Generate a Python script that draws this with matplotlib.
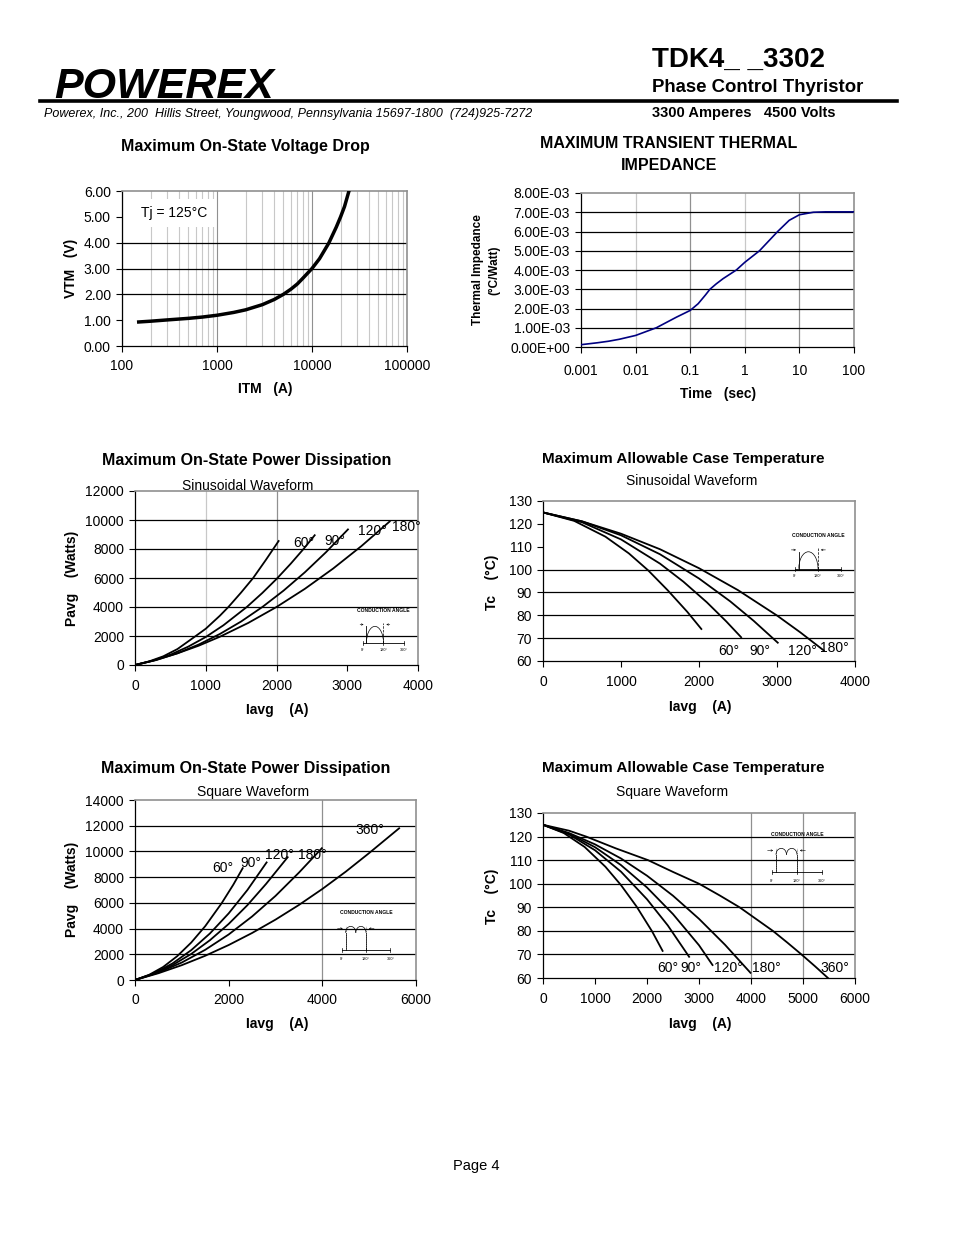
import numpy as np
import matplotlib
matplotlib.use('Agg')
import matplotlib.pyplot as plt
from matplotlib.lines import Line2D
from matplotlib.patches import Arc
from matplotlib.ticker import FuncFormatter, LogLocator, NullFormatter

plt.rcParams['font.family'] = ['Liberation Sans', 'DejaVu Sans']

W, H = 954, 1235

# --- on-state voltage drop
itm = [150, 200, 300, 500, 700, 1000, 1500, 2000, 3000, 4000, 5000, 6000, 7000, 8000,
       10000, 12000, 15000, 18000, 20000, 22000, 24500]
vtm = [0.93, 0.96, 1.01, 1.07, 1.12, 1.19, 1.30, 1.40, 1.60, 1.80, 2.00, 2.20, 2.40, 2.62,
       3.00, 3.38, 3.98, 4.60, 5.00, 5.40, 6.00]
vtm_grid = [2, 3, 4]

# --- transient thermal impedance
t_sec = [0.001, 0.002, 0.0032, 0.005, 0.01, 0.024, 0.056, 0.1, 0.14, 0.19, 0.23, 0.3, 0.4,
         0.7, 1, 1.86, 4, 6.5, 10, 18, 30, 100]
zth = [0.12e-3, 0.22e-3, 0.30e-3, 0.40e-3, 0.60e-3, 1.00e-3, 1.55e-3, 1.90e-3, 2.25e-3,
       2.70e-3, 3.00e-3, 3.28e-3, 3.55e-3, 4.00e-3, 4.40e-3, 5.00e-3, 6.00e-3, 6.58e-3,
       6.87e-3, 7.00e-3, 7.02e-3, 7.02e-3]

# --- sinusoidal power dissipation
sin_p = {
    '60': ([0, 200, 400, 600, 830, 1000, 1200, 1320, 1500, 1670, 1850, 2030],
           [0, 250, 600, 1100, 1900, 2500, 3400, 4000, 5000, 6000, 7250, 8550]),
    '90': ([0, 250, 500, 750, 1000, 1250, 1580, 1800, 2000, 2200, 2380, 2540],
           [0, 290, 710, 1260, 1930, 2740, 4000, 4970, 5930, 6980, 7990, 8950]),
    '120': ([0, 300, 600, 900, 1200, 1500, 1800, 2100, 2400, 2700, 3010],
            [0, 340, 810, 1410, 2140, 3000, 4000, 5130, 6390, 7780, 9350]),
    '180': ([0, 300, 600, 900, 1200, 1600, 2000, 2400, 2800, 3200, 3600],
            [0, 360, 805, 1330, 1950, 2900, 4000, 5250, 6650, 8200, 9900]),
}
# --- sinusoidal case temperature
sin_tc = {
    '60': ([0, 400, 800, 1100, 1350, 1600, 1850, 2030],
           [125, 121.3, 114.4, 107.1, 99.6, 90.9, 81.5, 74.0]),
    '90': ([0, 500, 1000, 1500, 1800, 2100, 2350, 2540],
           [125, 120.7, 113.2, 102.6, 94.7, 85.7, 77.3, 70.4]),
    '120': ([0, 500, 1000, 1500, 2000, 2400, 2700, 3010],
            [125, 121.1, 115.0, 106.7, 96.1, 86.1, 77.6, 68.0]),
    '180': ([0, 500, 1000, 1500, 2000, 2500, 3000, 3300, 3600],
            [125, 121.1, 115.7, 108.9, 100.6, 91.0, 79.9, 72.5, 64.6]),
}
# --- square power dissipation
sq_p = {
    '60': ([0, 300, 600, 900, 1200, 1500, 1850, 2100, 2300],
           [0, 400, 1010, 1850, 2910, 4190, 5970, 7420, 8700]),
    '90': ([0, 400, 800, 1200, 1600, 2000, 2400, 2810],
           [0, 510, 1285, 2320, 3620, 5180, 7000, 9145]),
    '120': ([0, 400, 800, 1200, 1600, 2000, 2400, 2800, 3260],
            [0, 480, 1155, 2025, 3095, 4360, 5820, 7480, 9550]),
    '180': ([0, 500, 1000, 1500, 2000, 2500, 3000, 3500, 3990],
            [0, 577, 1360, 2350, 3540, 4940, 6540, 8350, 10250]),
    '360': ([0, 500, 1000, 1500, 2000, 2500, 3000, 3500, 4000, 4500, 5000, 5640],
            [0, 526, 1155, 1886, 2720, 3656, 4695, 5836, 7080, 8426, 9875, 11800]),
}
# --- square case temperature
sq_tc = {
    '60': ([0, 400, 800, 1200, 1500, 1800, 2100, 2300],
           [125, 121.5, 115.6, 107.2, 99.4, 90.3, 79.7, 71.5]),
    '90': ([0, 500, 1000, 1500, 2000, 2400, 2810],
           [125, 120.9, 114.2, 105.1, 93.4, 82.3, 69.0]),
    '120': ([0, 500, 1000, 1500, 2000, 2500, 3000, 3260],
            [125, 121.2, 115.5, 107.9, 98.4, 87.1, 73.9, 65.5]),
    '180': ([0, 500, 1000, 1500, 2000, 2500, 3000, 3500, 3990],
            [125, 121.5, 116.7, 110.7, 103.4, 94.9, 85.1, 74.1, 62.2]),
    '360': ([0, 500, 830, 1400, 2020, 2500, 3000, 3400, 3780, 4100, 4420, 4700, 4970, 5230, 5480],
            [125, 122.5, 120, 115, 110, 105, 100, 95, 90, 85, 80, 75, 70, 65, 60]),
}

# angle labels (data coords)
sin_p_lab = [('60°', 2230, 8400), ('90°', 2680, 8550), ('120°', 3150, 9250), ('180°', 3630, 9550)]
sin_tc_lab = [('60°', 2250, 64.3), ('90°', 2650, 64.3), ('120°', 3140, 64.3), ('180°', 3550, 65.6)]
sq_p_lab = [('60°', 1660, 8700), ('90°', 2240, 9100), ('120°', 2770, 9700), ('180°', 3480, 9700),
            ('360°', 4700, 11650)]
sq_tc_lab = [('60°', 2190, 64.2), ('90°', 2650, 64.2), ('120°', 3290, 64.2), ('180°', 4020, 64.2),
             ('360°', 5330, 64.2)]

fig = plt.figure(figsize=(W / 100, H / 100), dpi=100)


def px_axes(l, t, r, b):
    return fig.add_axes([l / W, 1 - b / H, (r - l) / W, (b - t) / H])


def ftext(x, y, s, **kw):
    fig.text(x / W, 1 - y / H, s, **kw)


def style(ax):
    for s in ['top', 'right']:
        ax.spines[s].set_color('#909090')
        ax.spines[s].set_linewidth(1.2)
    for s in ['left', 'bottom']:
        ax.spines[s].set_color('black')
        ax.spines[s].set_linewidth(0.9)
    ax.tick_params(direction='out', length=4, width=0.8, labelsize=10, pad=4,
                   top=False, right=False)
    ax.set_axisbelow(True)


def hgrid(ax, vals):
    for v in vals:
        ax.axhline(v, color='black', lw=0.9, zorder=1)


def inset(rect, square=False):
    l, t, r, b = rect
    ia = px_axes(l, t, r, b)
    ia.axis('off')
    ia.set_xlim(-70, 430)
    ia.set_ylim(-0.7, 2.0)
    ia.text(180, 1.75, 'CONDUCTION ANGLE', fontsize=3.6, weight='bold', ha='center', va='center')
    ia.plot([0, 360], [0, 0], color='black', lw=0.6)
    for x, s in [(0, '0°'), (180, '180°'), (360, '360°')]:
        ia.plot([x, x], [-0.1, 0.1], color='black', lw=0.5)
        ia.text(x, -0.4, s, fontsize=2.8, ha='center', va='center')
    if square:
        ia.plot([30, 30], [0, 1.1], color='black', lw=0.5, ls=':')
        ia.plot([180, 180], [0, 1.1], color='black', lw=0.5, ls=':')
        ia.add_patch(Arc((67.5, 0.8), 75, 0.6, theta1=0, theta2=180, lw=0.5))
        ia.add_patch(Arc((142.5, 0.8), 75, 0.6, theta1=0, theta2=180, lw=0.5))
        ia.plot([30, 30], [0, 0.8], color='black', lw=0.5)
        ia.plot([180, 180], [0, 0.8], color='black', lw=0.5)
    else:
        ia.plot([30, 30], [0, 0.9], color='black', lw=0.6)
        ia.add_patch(Arc((105, 0.0), 150, 1.8, theta1=0, theta2=180, lw=0.5))
        ia.plot([180, 180], [0, 1.1], color='black', lw=0.5, ls='--')
    ia.annotate('', xy=(30, 1.0), xytext=(-50, 1.0),
                arrowprops=dict(arrowstyle='->', lw=0.4, mutation_scale=3))
    ia.annotate('', xy=(180, 1.0), xytext=(260, 1.0),
                arrowprops=dict(arrowstyle='->', lw=0.4, mutation_scale=3))


# ---------------- header ----------------
ftext(54, 98, 'POWEREX', fontsize=31, weight='bold', style='italic', va='baseline')
fig.add_artist(Line2D([40 / W, 897 / W], [1 - 101 / H] * 2, lw=2.6, color='black'))
ftext(44, 114, 'Powerex, Inc., 200  Hillis Street, Youngwood, Pennsylvania 15697-1800  (724)925-7272',
      fontsize=9, style='italic', va='center')
ftext(652, 60, 'TDK4_ _3302', fontsize=20, weight='bold', va='center')
ftext(652, 88, 'Phase Control Thyristor', fontsize=13.4, weight='bold', va='center')
ftext(652, 113, '3300 Amperes   4500 Volts', fontsize=10.5, weight='bold', va='center')
ftext(476, 1166, 'Page 4', fontsize=10.5, ha='center', va='center')

lab = dict(fontsize=10, weight='bold', ha='center', va='center')
ttl = dict(fontsize=11.5, weight='bold', ha='center', va='center')

# ---------------- chart 1 ----------------
ax1 = px_axes(122, 191, 407, 346)
style(ax1)
ax1.set_xscale('log')
ax1.set_xlim(100, 100000)
ax1.set_ylim(0, 6)
ax1.set_yticks(np.arange(0, 6.01, 1))
ax1.yaxis.set_major_formatter(FuncFormatter(lambda v, p: f'{v:.2f}'))
ax1.xaxis.set_major_locator(LogLocator(base=10, numticks=10))
ax1.xaxis.set_major_formatter(FuncFormatter(lambda v, p: f'{int(round(v))}'))
ax1.xaxis.set_minor_locator(LogLocator(base=10, subs=np.arange(2, 10), numticks=20))
ax1.xaxis.set_minor_formatter(NullFormatter())
ax1.tick_params(axis='x', which='minor', length=0)
ax1.tick_params(axis='x', which='major', pad=5)
ax1.grid(True, axis='x', which='minor', color='#c8c8c8', lw=0.8)
ax1.grid(True, axis='x', which='major', color='#909090', lw=0.8)
hgrid(ax1, vtm_grid)
ax1.plot(itm, vtm, color='black', lw=2.5, zorder=3)
ax1.text(160, 5.15, 'Tj = 125°C', fontsize=10, va='center', zorder=2,
         bbox=dict(facecolor='white', edgecolor='none', pad=5))
ftext(245, 147, 'Maximum On-State Voltage Drop', **ttl)
ftext(265, 389, 'ITM   (A)', **lab)
ftext(71, 268, 'VTM   (V)', rotation=90, **lab)

# ---------------- chart 2 ----------------
ax2 = px_axes(581, 193, 854, 347)
style(ax2)
ax2.set_xscale('log')
ax2.set_xlim(0.001, 100)
ax2.set_ylim(0, 8e-3)
ax2.set_yticks(np.arange(0, 8.01e-3, 1e-3))
ax2.yaxis.set_major_formatter(FuncFormatter(lambda v, p: f'{v:.2E}'))
ax2.set_xticks([0.001, 0.01, 0.1, 1, 10, 100])
ax2.xaxis.set_major_formatter(FuncFormatter(lambda v, p: f'{v:g}'))
ax2.xaxis.set_minor_formatter(NullFormatter())
ax2.tick_params(axis='x', which='minor', length=0)
ax2.tick_params(axis='x', which='major', pad=8)
for v, c in [(0.01, '#c8c8c8'), (0.1, '#909090'), (1, '#c8c8c8'), (10, '#909090')]:
    ax2.axvline(v, color=c, lw=0.9, zorder=0)
hgrid(ax2, np.arange(1e-3, 7.01e-3, 1e-3))
ax2.plot(t_sec, zth, color='#000080', lw=1.2, zorder=3)
ftext(669, 144, 'MAXIMUM TRANSIENT THERMAL', **ttl)
ftext(669, 166, 'IMPEDANCE', **ttl)
ftext(718, 394, 'Time   (sec)', **lab)
ftext(478, 270, 'Thermal Impedance', rotation=90, fontsize=8.5, weight='bold', ha='center', va='center')
ftext(494, 270, '(°C/Watt)', rotation=90, fontsize=8.5, weight='bold', ha='center', va='center')

# ---------------- chart 3 ----------------
ax3 = px_axes(135, 491, 418, 665)
style(ax3)
ax3.set_xlim(0, 4000)
ax3.set_ylim(0, 12000)
ax3.set_xticks(np.arange(0, 4001, 1000))
ax3.set_yticks(np.arange(0, 12001, 2000))
ax3.tick_params(axis='x', pad=6)
ax3.axvline(1000, color='#c8c8c8', lw=0.9, zorder=0)
ax3.axvline(2000, color='#909090', lw=0.9, zorder=0)
hgrid(ax3, np.arange(2000, 10001, 2000))
for k, (x, y) in sin_p.items():
    ax3.plot(x, y, color='black', lw=1.3, zorder=3)
for s, x, y in sin_p_lab:
    ax3.text(x, y, s, fontsize=10, va='center', zorder=4)
inset((355, 606, 412, 656))
ftext(247, 461, 'Maximum On-State Power Dissipation', **ttl)
ftext(248, 486, 'Sinusoidal Waveform', fontsize=10, ha='center', va='center')
ftext(277, 710, 'Iavg    (A)', **lab)
ftext(72, 578, 'Pavg    (Watts)', rotation=90, **lab)

# ---------------- chart 4 ----------------
ax4 = px_axes(543, 501, 855, 661)
style(ax4)
ax4.set_xlim(0, 4000)
ax4.set_ylim(60, 130)
ax4.set_xticks(np.arange(0, 4001, 1000))
ax4.set_yticks(np.arange(60, 131, 10))
ax4.tick_params(axis='x', pad=6)
hgrid(ax4, [70, 80, 90, 100])
for k, (x, y) in sin_tc.items():
    ax4.plot(x, y, color='black', lw=1.3, zorder=3)
for s, x, y in sin_tc_lab:
    ax4.text(x, y, s, fontsize=10, va='center', zorder=4)
inset((786, 531, 850, 582))
ftext(683, 459, 'Maximum Allowable Case Temperature', fontsize=11, weight='bold', ha='center', va='center')
ftext(692, 481, 'Sinusoidal Waveform', fontsize=10, ha='center', va='center')
ftext(700, 707, 'Iavg    (A)', **lab)
ftext(492, 582, 'Tc    (°C)', rotation=90, **lab)

# ---------------- chart 5 ----------------
ax5 = px_axes(135, 800, 416, 980)
style(ax5)
ax5.set_xlim(0, 6000)
ax5.set_ylim(0, 14000)
ax5.set_xticks(np.arange(0, 6001, 2000))
ax5.set_yticks(np.arange(0, 14001, 2000))
ax5.tick_params(axis='x', pad=5)
ax5.axvline(4000, color='#909090', lw=0.9, zorder=0)
hgrid(ax5, np.arange(2000, 12001, 2000))
for k, (x, y) in sq_p.items():
    ax5.plot(x, y, color='black', lw=1.3, zorder=3)
for s, x, y in sq_p_lab:
    ax5.text(x, y, s, fontsize=10, va='center', zorder=4)
inset((332, 907, 400, 965), square=True)
ftext(246, 768, 'Maximum On-State Power Dissipation', **ttl)
ftext(253, 792, 'Square Waveform', fontsize=10, ha='center', va='center')
ftext(277, 1024, 'Iavg    (A)', **lab)
ftext(72, 889, 'Pavg    (Watts)', rotation=90, **lab)

# ---------------- chart 6 ----------------
ax6 = px_axes(543, 813, 855, 978)
style(ax6)
ax6.set_xlim(0, 6000)
ax6.set_ylim(60, 130)
ax6.set_xticks(np.arange(0, 6001, 1000))
ax6.set_yticks(np.arange(60, 131, 10))
ax6.tick_params(axis='x', pad=6)
ax6.axvline(4000, color='#909090', lw=0.9, zorder=0)
ax6.axvline(5000, color='#909090', lw=0.9, zorder=0)
hgrid(ax6, np.arange(70, 121, 10))
for k, (x, y) in sq_tc.items():
    ax6.plot(x, y, color='black', lw=1.3, zorder=3)
for s, x, y in sq_tc_lab:
    ax6.text(x, y, s, fontsize=10, va='center', zorder=4)
inset((762, 829, 832, 887), square=True)
ftext(683, 768, 'Maximum Allowable Case Temperature', fontsize=11, weight='bold', ha='center', va='center')
ftext(672, 792, 'Square Waveform', fontsize=10, ha='center', va='center')
ftext(700, 1024, 'Iavg    (A)', **lab)
ftext(492, 896, 'Tc    (°C)', rotation=90, **lab)

fig.savefig('out.png', dpi=100, facecolor='white')
